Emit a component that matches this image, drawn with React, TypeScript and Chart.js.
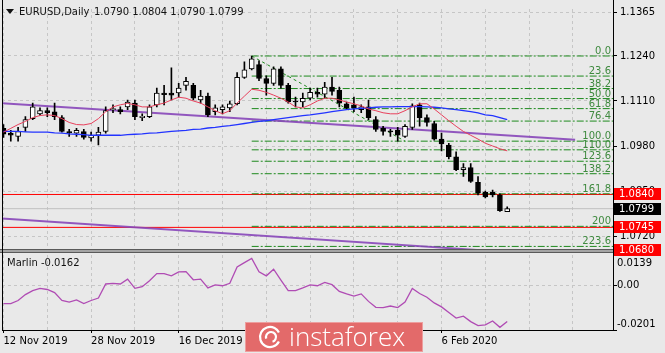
import React, { useEffect, useRef } from 'react';
import { Chart, registerables } from 'chart.js';

Chart.register(...registerables);

const FONT = '"DejaVu Sans", Verdana, sans-serif';
const BG = '#e9e9e9';
const GRID = '#c6c6c6';

const symbolTitle = 'EURUSD,Daily';
const ohlcTitle = '1.0790 1.0804 1.0790 1.0799';
const indicatorTitle = 'Marlin -0.0162';

const opens = [1.1031,1.1017,1.1008,1.1034,1.1059,1.1073,1.1082,1.1079,1.1062,1.1022,
1.1017,1.1022,1.1003,1.1011,1.1022,1.1085,1.1085,1.1093,1.1104,1.1062,
1.1065,1.1099,1.1133,1.1133,1.1133,1.1155,1.1155,1.1113,1.1124,1.1079,
1.1085,1.1090,1.1102,1.1178,1.1203,1.1215,1.1175,1.1161,1.1203,1.1155,
1.1110,1.1107,1.1118,1.1135,1.1130,1.1150,1.1141,1.1102,1.1099,1.1085,
1.1093,1.1056,1.1031,1.1022,1.1025,1.1008,1.1034,1.1099,1.1062,1.1045,
1.1000,1.0983,1.0949,1.0912,1.0918,1.0875,1.0847,1.0847,1.0839,1.0790];
const highs = [1.1042,1.1025,1.1034,1.1065,1.1104,1.1090,1.1090,1.1104,1.1068,1.1028,
1.1031,1.1028,1.1020,1.1034,1.1093,1.1099,1.1093,1.1113,1.1113,1.1073,
1.1099,1.1147,1.1155,1.1206,1.1161,1.1178,1.1161,1.1141,1.1133,1.1099,
1.1099,1.1110,1.1192,1.1223,1.1240,1.1226,1.1183,1.1209,1.1209,1.1161,
1.1121,1.1133,1.1147,1.1147,1.1164,1.1178,1.1150,1.1107,1.1121,1.1099,
1.1113,1.1065,1.1037,1.1028,1.1034,1.1042,1.1102,1.1104,1.1070,1.1051,
1.1017,1.0988,1.0963,1.0929,1.0929,1.0892,1.0850,1.0853,1.0842,1.0804];
const lows = [1.1005,1.0994,1.0994,1.1022,1.1056,1.1068,1.1065,1.1056,1.1020,1.1008,
1.1008,1.1000,1.0994,1.0983,1.1017,1.1076,1.1073,1.1085,1.1056,1.1053,
1.1062,1.1093,1.1099,1.1113,1.1121,1.1141,1.1113,1.1104,1.1065,1.1070,
1.1073,1.1079,1.1099,1.1175,1.1200,1.1169,1.1127,1.1155,1.1147,1.1104,
1.1093,1.1093,1.1113,1.1121,1.1118,1.1127,1.1093,1.1085,1.1079,1.1076,
1.1056,1.1022,1.1011,1.1008,1.0994,1.1005,1.1028,1.1037,1.1037,1.0997,
1.0966,1.0943,1.0909,1.0892,1.0875,1.0839,1.0830,1.0833,1.0791,1.0790];
const closes = [1.1014,1.1011,1.1022,1.1056,1.1093,1.1082,1.1076,1.1065,1.1022,1.1018,
1.1025,1.1005,1.1011,1.1020,1.1082,1.1087,1.1079,1.1107,1.1065,1.1066,
1.1093,1.1133,1.1128,1.1127,1.1147,1.1167,1.1118,1.1124,1.1070,1.1090,
1.1093,1.1102,1.1178,1.1200,1.1232,1.1175,1.1161,1.1203,1.1155,1.1107,
1.1107,1.1118,1.1135,1.1130,1.1150,1.1138,1.1104,1.1090,1.1090,1.1093,
1.1062,1.1028,1.1022,1.1021,1.1011,1.1037,1.1096,1.1062,1.1048,1.1000,
1.0986,1.0949,1.0912,1.0918,1.0878,1.0844,1.0833,1.0839,1.0793,1.0799];

const redMA = [1.1020,1.1031,1.1042,1.1051,1.1062,1.1068,1.1070,1.1068,1.1059,1.1048,
1.1042,1.1041,1.1045,1.1059,1.1079,1.1093,1.1099,1.1103,1.1099,1.1093,
1.1093,1.1099,1.1104,1.1113,1.1121,1.1118,1.1110,1.1104,1.1093,1.1082,
1.1073,1.1082,1.1104,1.1124,1.1144,1.1141,1.1135,1.1127,1.1118,1.1107,
1.1093,1.1090,1.1099,1.1110,1.1118,1.1118,1.1113,1.1107,1.1102,1.1096,
1.1087,1.1082,1.1076,1.1073,1.1073,1.1082,1.1093,1.1102,1.1102,1.1087,
1.1070,1.1053,1.1037,1.1022,1.1011,1.1000,1.0988,1.0980,1.0972,1.0966];
const blueMA = [1.1022,1.1022,1.1022,1.1021,1.1020,1.1020,1.1020,1.1018,1.1017,1.1015,
1.1014,1.1013,1.1011,1.1011,1.1011,1.1011,1.1011,1.1013,1.1014,1.1015,
1.1017,1.1018,1.1020,1.1022,1.1024,1.1025,1.1028,1.1029,1.1032,1.1034,
1.1037,1.1039,1.1042,1.1045,1.1048,1.1051,1.1053,1.1056,1.1059,1.1062,
1.1065,1.1068,1.1070,1.1073,1.1076,1.1079,1.1082,1.1085,1.1087,1.1089,
1.1090,1.1092,1.1093,1.1093,1.1094,1.1094,1.1094,1.1094,1.1093,1.1092,
1.1090,1.1087,1.1085,1.1082,1.1079,1.1076,1.1070,1.1068,1.1062,1.1056];

const marlin = [-0.0081,-0.0081,-0.0067,-0.0040,-0.0022,-0.0012,-0.0017,-0.0031,-0.0067,-0.0074,
-0.0064,-0.0081,-0.0067,-0.0056,0.0008,0.0011,0.0008,0.0030,-0.0012,-0.0004,
0.0023,0.0055,0.0055,0.0045,0.0063,0.0064,0.0027,0.0030,-0.0010,0.0004,
0.0000,0.0011,0.0085,0.0105,0.0124,0.0063,0.0045,0.0075,0.0026,-0.0022,
-0.0022,-0.0010,0.0004,0.0000,0.0015,0.0005,-0.0026,-0.0037,-0.0047,-0.0037,
-0.0071,-0.0098,-0.0099,-0.0092,-0.0099,-0.0074,-0.0012,-0.0035,-0.0052,-0.0078,
-0.0096,-0.0122,-0.0147,-0.0138,-0.0163,-0.0181,-0.0178,-0.0160,-0.0189,-0.0162];

const dateTickIndex = [0, 12, 24, 36, 48, 60];
const dateTickLabels = ['12 Nov 2019', '28 Nov 2019', '16 Dec 2019', '3 Jan 2020', '21 Jan 2020', '6 Feb 2020'];
const gridIndex = [0, 6, 12, 18, 24, 30, 36, 42, 48, 54, 60, 66, 72, 78];

const priceTicks = [1.0720, 1.0850, 1.0980, 1.1110, 1.1240, 1.1365];
const marlinTicks = [-0.0201, 0, 0.0139];

const fibLabels = ['0.0', '23.6', '38.2', '50.0', '61.8', '76.4', '100.0', '110.0', '123.6', '138.2', '161.8', '200', '223.6', '238.2'];
const fibPrices = [1.1240, 1.1182, 1.1146, 1.1117, 1.1088, 1.1052, 1.0994, 1.0969, 1.0936, 1.0900, 1.0842, 1.0748, 1.0690, 1.0654];
const fibStartIndex = 34;
const fibAnchorIndex = [34, 55];
const fibAnchorPrice = [1.1240, 1.0994];

const redLevels = [1.0840, 1.0745, 1.0680];
const bidPrice = 1.0799;

const upperTrendIndex = [-0.48, 78.3];
const upperTrendPrice = [1.1104, 1.0998];
const lowerTrendIndex = [-0.48, 70.5];
const lowerTrendPrice = [1.0771, 1.0672];

const X_MIN = -0.205;
const X_MAX = 83.49;
const P_MIN = 1.06719;
const P_MAX = 1.13757;
const M_MIN = -0.0201;
const M_MAX = 0.01502;

const seg = (x0: number, y0: number, x1: number, y1: number) => [{ x: x0, y: y0 }, { x: x1, y: y1 }];

const lineDs = (data: any[], color: string, width: number, order: number, dash: number[] = [], yAxisID = 'y') => ({
  type: 'line' as const,
  data,
  borderColor: color,
  borderWidth: width,
  borderDash: dash,
  pointRadius: 0,
  fill: false,
  tension: 0,
  order,
  xAxisID: 'x',
  yAxisID,
});

const overlayPlugin = {
  id: 'overlay',
  beforeDraw(chart: any) {
    const { ctx, width, height } = chart;
    ctx.save();
    ctx.fillStyle = BG;
    ctx.fillRect(0, 0, width, height);
    ctx.restore();
  },
  afterDatasetsDraw(chart: any) {
    const { ctx, chartArea: ca } = chart;
    const ys = chart.scales.y;
    ctx.save();
    ctx.beginPath();
    ctx.rect(ca.left, ca.top, ca.right - ca.left, 249 - ca.top);
    ctx.clip();
    ctx.font = `10px ${FONT}`;
    ctx.fillStyle = '#3f8a3f';
    ctx.textAlign = 'right';
    ctx.textBaseline = 'alphabetic';
    fibLabels.forEach((l, i) => {
      const py = ys.getPixelForValue(fibPrices[i]);
      ctx.fillText(l, ca.right - 2, py - 2);
    });
    ctx.restore();
  },
  afterDraw(chart: any) {
    const { ctx, chartArea: ca } = chart;
    const ys = chart.scales.y;
    const ys2 = chart.scales.y2;
    ctx.save();
    // window separator
    ctx.fillStyle = '#a4a4a4';
    ctx.fillRect(0, 249, ca.right, 4);
    ctx.fillStyle = '#5a5a5a';
    ctx.fillRect(0, 249, ca.right, 1);
    ctx.fillRect(0, 252, ca.right, 1);
    // frame
    ctx.fillStyle = '#000';
    ctx.fillRect(ca.left, 0, 1, ca.bottom);
    ctx.fillRect(ca.right, 0, 1, ca.bottom + 1);
    ctx.fillRect(ca.left, ca.bottom, ca.right - ca.left + 1, 1);
    // price boxes
    ctx.font = `10px ${FONT}`;
    ctx.textAlign = 'left';
    ctx.textBaseline = 'middle';
    const boxes = [
      { p: redLevels[0], bg: '#ff0000' },
      { p: bidPrice, bg: '#000000' },
      { p: redLevels[1], bg: '#ff0000' },
      { p: redLevels[2], bg: '#ff0000' },
    ];
    boxes.forEach((b) => {
      const py = Math.round(ys.getPixelForValue(b.p));
      ctx.fillStyle = b.bg;
      ctx.fillRect(ca.right + 1, py - 6, 47, 12);
      ctx.fillStyle = '#ffffff';
      ctx.fillText(b.p.toFixed(4), ca.right + 6, py + 0.5);
    });
    // marlin axis labels
    ctx.fillStyle = '#000';
    const mOff = [-6, 0, 8.5];
    marlinTicks.forEach((v, i) => {
      const py = ys2.getPixelForValue(v) + mOff[i];
      ctx.fillText(v === 0 ? '0.00' : v.toFixed(4), ca.right + 4, py);
    });
    // titles
    ctx.fillStyle = '#111';
    ctx.beginPath();
    ctx.moveTo(6, 9);
    ctx.lineTo(14, 9);
    ctx.lineTo(10, 14);
    ctx.closePath();
    ctx.fill();
    ctx.fillText(symbolTitle, 19, 12);
    ctx.fillText(ohlcTitle, 94, 12);
    ctx.fillText(indicatorTitle, 7, 263.5);
    // logo
    ctx.fillStyle = '#e36a6a';
    ctx.fillRect(245, 322, 178, 30);
    ctx.strokeStyle = 'rgba(255,255,255,0.35)';
    ctx.lineWidth = 1;
    ctx.strokeRect(245.5, 322.5, 177, 29);
    ctx.strokeStyle = '#ffffff';
    ctx.lineWidth = 2.2;
    ctx.beginPath();
    ctx.arc(270, 337, 10, Math.PI * 0.15, Math.PI * 1.85);
    ctx.stroke();
    ctx.beginPath();
    ctx.arc(271, 337, 5, Math.PI * 0.9, Math.PI * 2.4);
    ctx.stroke();
    ctx.fillStyle = '#ffffff';
    ctx.font = `300 26px "Open Sans", Lato, sans-serif`;
    ctx.textBaseline = 'alphabetic';
    ctx.fillText('instaforex', 289, 346);
    ctx.restore();
  },
};

export default function App() {
  const ref = useRef<HTMLCanvasElement>(null);
  useEffect(() => {
    document.body.style.margin = '0';
    const idx = opens.map((_, i) => i);
    const wicks = idx.map((i) => ({ x: i, y: [lows[i], highs[i]] }));
    const bodies = idx.map((i) => ({ x: i, y: [opens[i], closes[i]] }));
    const bodyFill = idx.map((i) => (closes[i] >= opens[i] ? '#ffffff' : '#000000'));

    const datasets: any[] = [];
    redLevels.forEach((p) => datasets.push(lineDs(seg(X_MIN, p, X_MAX, p), '#ff0000', 1, 20)));
    datasets.push(lineDs(seg(X_MIN, bidPrice, X_MAX, bidPrice), '#c0c0c0', 1, 21));
    fibPrices.forEach((p) => {
      if (p > P_MIN) datasets.push(lineDs(seg(fibStartIndex, p, X_MAX, p), '#1e8a1e', 1, 18, [7, 2, 2, 2]));
    });
    datasets.push(lineDs(seg(fibAnchorIndex[0], fibAnchorPrice[0], fibAnchorIndex[1], fibAnchorPrice[1]), '#1e8a1e', 1, 17, [3, 3]));
    datasets.push(lineDs(seg(upperTrendIndex[0], upperTrendPrice[0], upperTrendIndex[1], upperTrendPrice[1]), 'rgba(135,70,185,0.9)', 2, 16));
    datasets.push(lineDs(seg(lowerTrendIndex[0], lowerTrendPrice[0], lowerTrendIndex[1], lowerTrendPrice[1]), 'rgba(135,70,185,0.9)', 2, 16));
    datasets.push({
      type: 'bar', data: wicks, backgroundColor: '#000000', borderWidth: 0, barThickness: 1,
      grouped: false, order: 6, xAxisID: 'x', yAxisID: 'y',
    });
    datasets.push({
      type: 'bar', data: bodies, backgroundColor: bodyFill, borderColor: '#000000', borderWidth: 1,
      borderSkipped: false, barThickness: 5, minBarLength: 1, grouped: false, order: 5, xAxisID: 'x', yAxisID: 'y',
    });
    datasets.push(lineDs(idx.map((i) => ({ x: i, y: blueMA[i] })), '#2233ff', 1.3, 2));
    datasets.push(lineDs(idx.map((i) => ({ x: i, y: redMA[i] })), '#e8405c', 1, 1));
    datasets.push(lineDs(idx.map((i) => ({ x: i, y: marlin[i] })), '#b04cb4', 1.3, 1, [], 'y2'));

    const chart = new Chart(ref.current as HTMLCanvasElement, {
      type: 'bar',
      data: { datasets },
      plugins: [overlayPlugin],
      options: {
        responsive: false,
        animation: false,
        events: [],
        layout: { padding: { top: 2, left: 2, right: 0, bottom: 0 } },
        plugins: { legend: { display: false }, tooltip: { enabled: false }, title: { display: false } },
        scales: {
          x: {
            type: 'linear', min: X_MIN, max: X_MAX, offset: false,
            afterBuildTicks: (s: any) => { s.ticks = gridIndex.map((v) => ({ value: v })); },
            afterFit: (s: any) => { s.height = 23; },
            ticks: {
              autoSkip: false, maxRotation: 0, minRotation: 0, align: 'start', padding: 2,
              font: { family: FONT, size: 10 }, color: '#000',
              callback: (v: any) => { const k = dateTickIndex.indexOf(Number(v)); return k >= 0 ? dateTickLabels[k] : ''; },
            },
            grid: {
              offset: false, color: GRID, tickLength: 3, tickBorderDash: [],
              tickColor: (c: any) => (c.tick && dateTickIndex.includes(c.tick.value) ? '#000' : 'rgba(0,0,0,0)'),
            },
            border: { display: false, dash: [3, 3] },
          },
          y: {
            type: 'linear', position: 'right', stack: 'panes', stackWeight: 249, min: P_MIN, max: P_MAX,
            afterBuildTicks: (s: any) => { s.ticks = priceTicks.map((v) => ({ value: v })); },
            afterFit: (s: any) => { s.width = 52; },
            ticks: { font: { family: FONT, size: 10 }, color: '#000', padding: 3, callback: (v: any) => Number(v).toFixed(4) },
            grid: { color: GRID, tickColor: '#000', tickLength: 4, tickBorderDash: [] },
            border: { display: false, dash: [3, 3] },
          },
          y2: {
            type: 'linear', position: 'right', stack: 'panes', stackWeight: 79, min: M_MIN, max: M_MAX,
            afterBuildTicks: (s: any) => { s.ticks = marlinTicks.map((v) => ({ value: v })); },
            afterFit: (s: any) => { s.width = 52; },
            ticks: { display: false },
            grid: {
              color: (c: any) => (c.tick && Math.abs(c.tick.value) < 1e-9 ? GRID : 'rgba(0,0,0,0)'),
              tickColor: '#000', tickLength: 4, tickBorderDash: [],
            },
            border: { display: false, dash: [3, 3] },
          },
        },
      } as any,
    } as any);
    return () => chart.destroy();
  }, []);
  return (
    <div style={{ width: 665, height: 353, background: BG, overflow: 'hidden' }}>
      <canvas ref={ref} width={665} height={353} style={{ display: 'block' }} />
    </div>
  );
}
